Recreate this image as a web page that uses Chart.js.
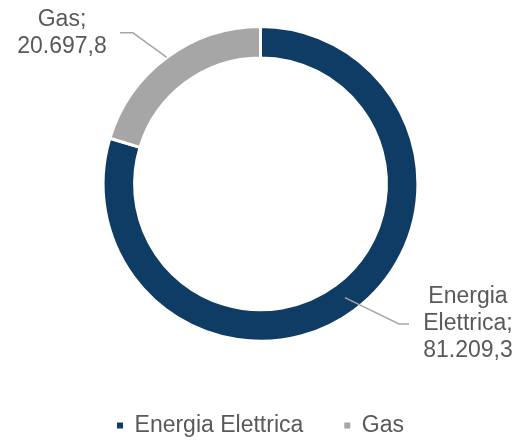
<!DOCTYPE html>
<html>
<head>
<meta charset="utf-8">
<script src="https://cdn.jsdelivr.net/npm/chart.js@4.4.0/dist/chart.umd.min.js"></script>
<style>
  html, body { margin: 0; padding: 0; background: #fff; }
  #wrap { width: 521px; height: 441px; }
</style>
</head>
<body>
<div id="wrap"><canvas id="consumiChart"></canvas></div>
<script>
const categories = ['Energia Elettrica', 'Gas'];
const values = [81209.3, 20697.8];

// 81209.3 -> "81.209,3"
function formatIt(v) {
    const parts = v.toFixed(1).split('.');
    return parts[0].replace(/\B(?=(\d{3})+(?!\d))/g, '.') + ',' + parts[1];
}

// etichette con linea guida, stile Excel
const calloutLabels = {
    id: 'calloutLabels',
    afterDatasetsDraw(chart) {
        const ctx = chart.ctx;
        const meta = chart.getDatasetMeta(0);
        meta.data.forEach((arc, i) => {
            const p = arc.getProps(['x', 'y', 'startAngle', 'endAngle', 'innerRadius', 'outerRadius'], true);
            const mid = (p.startAngle + p.endAngle) / 2;
            const right = Math.cos(mid) > 0;
            const R = p.outerRadius;
            const r0 = right ? (p.innerRadius + R) / 2 : R;
            const x0 = p.x + Math.cos(mid) * r0;
            const y0 = p.y + Math.sin(mid) * r0;
            const ex = p.x + (right ? 0.88 : -0.81) * R;
            const ey = p.y + (right ? 0.89 : -0.96) * R;
            const hx = ex + (right ? 10 : -13);

            ctx.save();
            ctx.strokeStyle = '#a6a6a6';
            ctx.lineWidth = 1.5;
            ctx.beginPath();
            ctx.moveTo(x0, y0);
            ctx.lineTo(ex, ey);
            ctx.lineTo(hx, ey);
            ctx.stroke();

            const words = chart.data.labels[i].split(' ');
            words[words.length - 1] += ';';
            const lines = words.concat([formatIt(values[i])]);
            const lh = 27;
            const tx = ex + (right ? 69 : -71);
            let ty = ey - (lines.length - 1) * lh / 2;
            ctx.fillStyle = '#595959';
            ctx.font = '23px "Liberation Sans", Arial, sans-serif';
            ctx.textAlign = 'center';
            ctx.textBaseline = 'middle';
            lines.forEach(l => {
                ctx.fillText(l, tx, ty);
                ty += lh;
            });
            ctx.restore();
        });
    }
};

Chart.defaults.font.family = '"Liberation Sans", Arial, sans-serif';

const ctx = document.getElementById('consumiChart').getContext('2d');
new Chart(ctx, {
    type: 'doughnut',
    data: {
        labels: categories,
        datasets: [{
            data: values,
            backgroundColor: ['#0f3c64', '#a6a6a6'],
            borderColor: '#ffffff',
            borderWidth: 3,
        }],
    },
    options: {
        responsive: true,
        maintainAspectRatio: false,
        animation: false,
        cutout: '80%',
        layout: {
            padding: { top: 25, bottom: -6 },
        },
        plugins: {
            tooltip: { enabled: false },
            legend: {
                position: 'bottom',
                title: {
                    display: true,
                    text: ' ',
                    font: { size: 1 },
                    padding: { top: 29, bottom: 0 },
                },
                labels: {
                    boxWidth: 6,
                    boxHeight: 6,
                    padding: 41,
                    color: '#595959',
                    font: { size: 23 },
                    generateLabels(chart) {
                        const items = Chart.overrides.doughnut.plugins.legend.labels.generateLabels(chart);
                        return items.map(it => Object.assign(it, { lineWidth: 0 }));
                    },
                },
            },
        },
    },
    plugins: [calloutLabels],
});
</script>
</body>
</html>
